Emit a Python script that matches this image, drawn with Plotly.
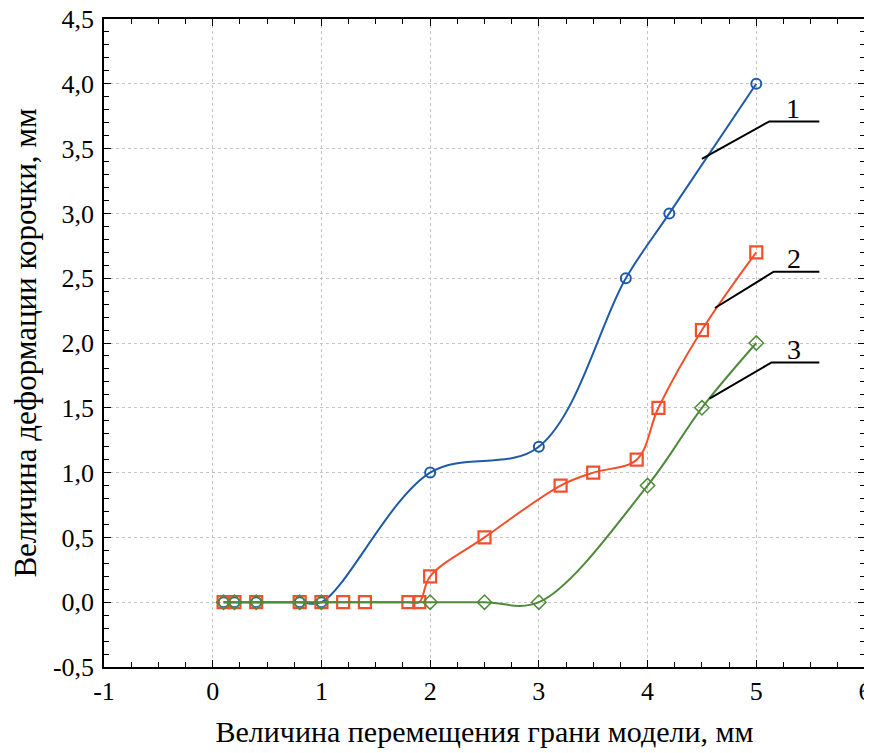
import plotly.graph_objects as go

# ---- data ----
x_curve1 = [0.1, 0.2, 0.4, 0.8, 1.0, 2.0, 3.0, 3.8, 4.2, 5.0]
y_curve1 = [0.0, 0.0, 0.0, 0.0, 0.0, 1.0, 1.2, 2.5, 3.0, 4.0]

x_curve2 = [0.1, 0.2, 0.4, 0.8, 1.0, 1.2, 1.4, 1.8, 1.9, 2.0, 2.5, 3.2, 3.5, 3.9, 4.1, 4.5, 5.0]
y_curve2 = [0.0, 0.0, 0.0, 0.0, 0.0, 0.0, 0.0, 0.0, 0.0, 0.2, 0.5, 0.9, 1.0, 1.1, 1.5, 2.1, 2.7]

x_curve3 = [0.1, 0.2, 0.4, 0.8, 1.0, 2.0, 2.5, 3.0, 4.0, 4.5, 5.0]
y_curve3 = [0.0, 0.0, 0.0, 0.0, 0.0, 0.0, 0.0, 0.0, 0.9, 1.5, 2.0]

x_tick_vals = [-1, 0, 1, 2, 3, 4, 5, 6]
x_tick_text = ["-1", "0", "1", "2", "3", "4", "5", "6"]
y_tick_vals = [-0.5, 0.0, 0.5, 1.0, 1.5, 2.0, 2.5, 3.0, 3.5, 4.0, 4.5]
y_tick_text = ["-0,5", "0,0", "0,5", "1,0", "1,5", "2,0", "2,5", "3,0", "3,5", "4,0", "4,5"]

curve_labels = ["1", "2", "3"]

x_title = "Величина перемещения грани модели, мм"
y_title = "Величина деформации корочки, мм"

# ---- styling ----
FONT = "Liberation Serif, Times New Roman, serif"
colors = ["#1f5aa8", "#f2502a", "#4f8a3c"]

fig = go.Figure()

fig.add_trace(go.Scatter(
    x=x_curve1, y=y_curve1, mode="lines+markers",
    line=dict(color=colors[0], width=2, shape="spline", smoothing=1.0),
    marker=dict(symbol="circle-open", size=10, color=colors[0], line=dict(width=2, color=colors[0])),
    showlegend=False))
fig.add_trace(go.Scatter(
    x=x_curve2, y=y_curve2, mode="lines+markers",
    line=dict(color=colors[1], width=2, shape="spline", smoothing=1.0),
    marker=dict(symbol="square-open", size=12, color=colors[1], line=dict(width=2.2, color=colors[1])),
    showlegend=False))
fig.add_trace(go.Scatter(
    x=x_curve3, y=y_curve3, mode="lines+markers",
    line=dict(color=colors[2], width=2, shape="spline", smoothing=1.0),
    marker=dict(symbol="diamond-open", size=11, color=colors[2], line=dict(width=1.5, color=colors[2])),
    showlegend=False))

# leader lines + labels (annotation geometry)
leaders = [
    ((4.50, 3.42), (5.12, 3.71), (5.58, 3.71), (5.34, 3.81)),
    ((4.62, 2.27), (5.16, 2.55), (5.58, 2.55), (5.35, 2.65)),
    ((4.57, 1.57), (5.14, 1.85), (5.58, 1.85), (5.35, 1.95)),
]
for (p0, p1, p2, pt), lab in zip(leaders, curve_labels):
    fig.add_shape(type="path", xref="x", yref="y",
                  path=f"M {p0[0]},{p0[1]} L {p1[0]},{p1[1]} L {p2[0]},{p2[1]}",
                  line=dict(color="black", width=2))
    fig.add_annotation(x=pt[0], y=pt[1], xref="x", yref="y", text=lab, showarrow=False,
                       font=dict(family=FONT, size=28, color="black"))

axis_common = dict(
    showline=True, linecolor="black", linewidth=1.5, mirror="ticks",
    ticks="inside", ticklen=7, tickwidth=1.2, tickcolor="black",
    showgrid=True, gridcolor="#c4c4c4", gridwidth=1, griddash="dot",
    zeroline=False, automargin=False, ticklabeloverflow="allow",
    tickfont=dict(family=FONT, size=26, color="black"),
)

fig.update_xaxes(
    range=[-1, 6], tickvals=x_tick_vals, ticktext=x_tick_text,
    minor=dict(ticks="inside", dtick=0.25, ticklen=5, tickcolor="black", showgrid=False),
    title=dict(text=x_title, font=dict(family=FONT, size=30, color="black"), standoff=16),
    **axis_common)
fig.update_yaxes(
    range=[-0.5, 4.5], tickvals=y_tick_vals, ticktext=y_tick_text,
    ticklabelstandoff=3,
    minor=dict(ticks="inside", dtick=0.1, ticklen=5, tickcolor="black", showgrid=False),
    title=dict(text=y_title, font=dict(family=FONT, size=31, color="black"), standoff=12),
    **axis_common)

# page body adds an 8px offset; margins compensate so the plot box lands at
# x 104..865, y 19..667 in the window
fig.update_layout(
    width=872, height=753,
    margin=dict(l=96, r=15, t=11, b=94),
    plot_bgcolor="white", paper_bgcolor="white",
    font=dict(family=FONT, color="black"),
)

fig.write_html("out.html")
